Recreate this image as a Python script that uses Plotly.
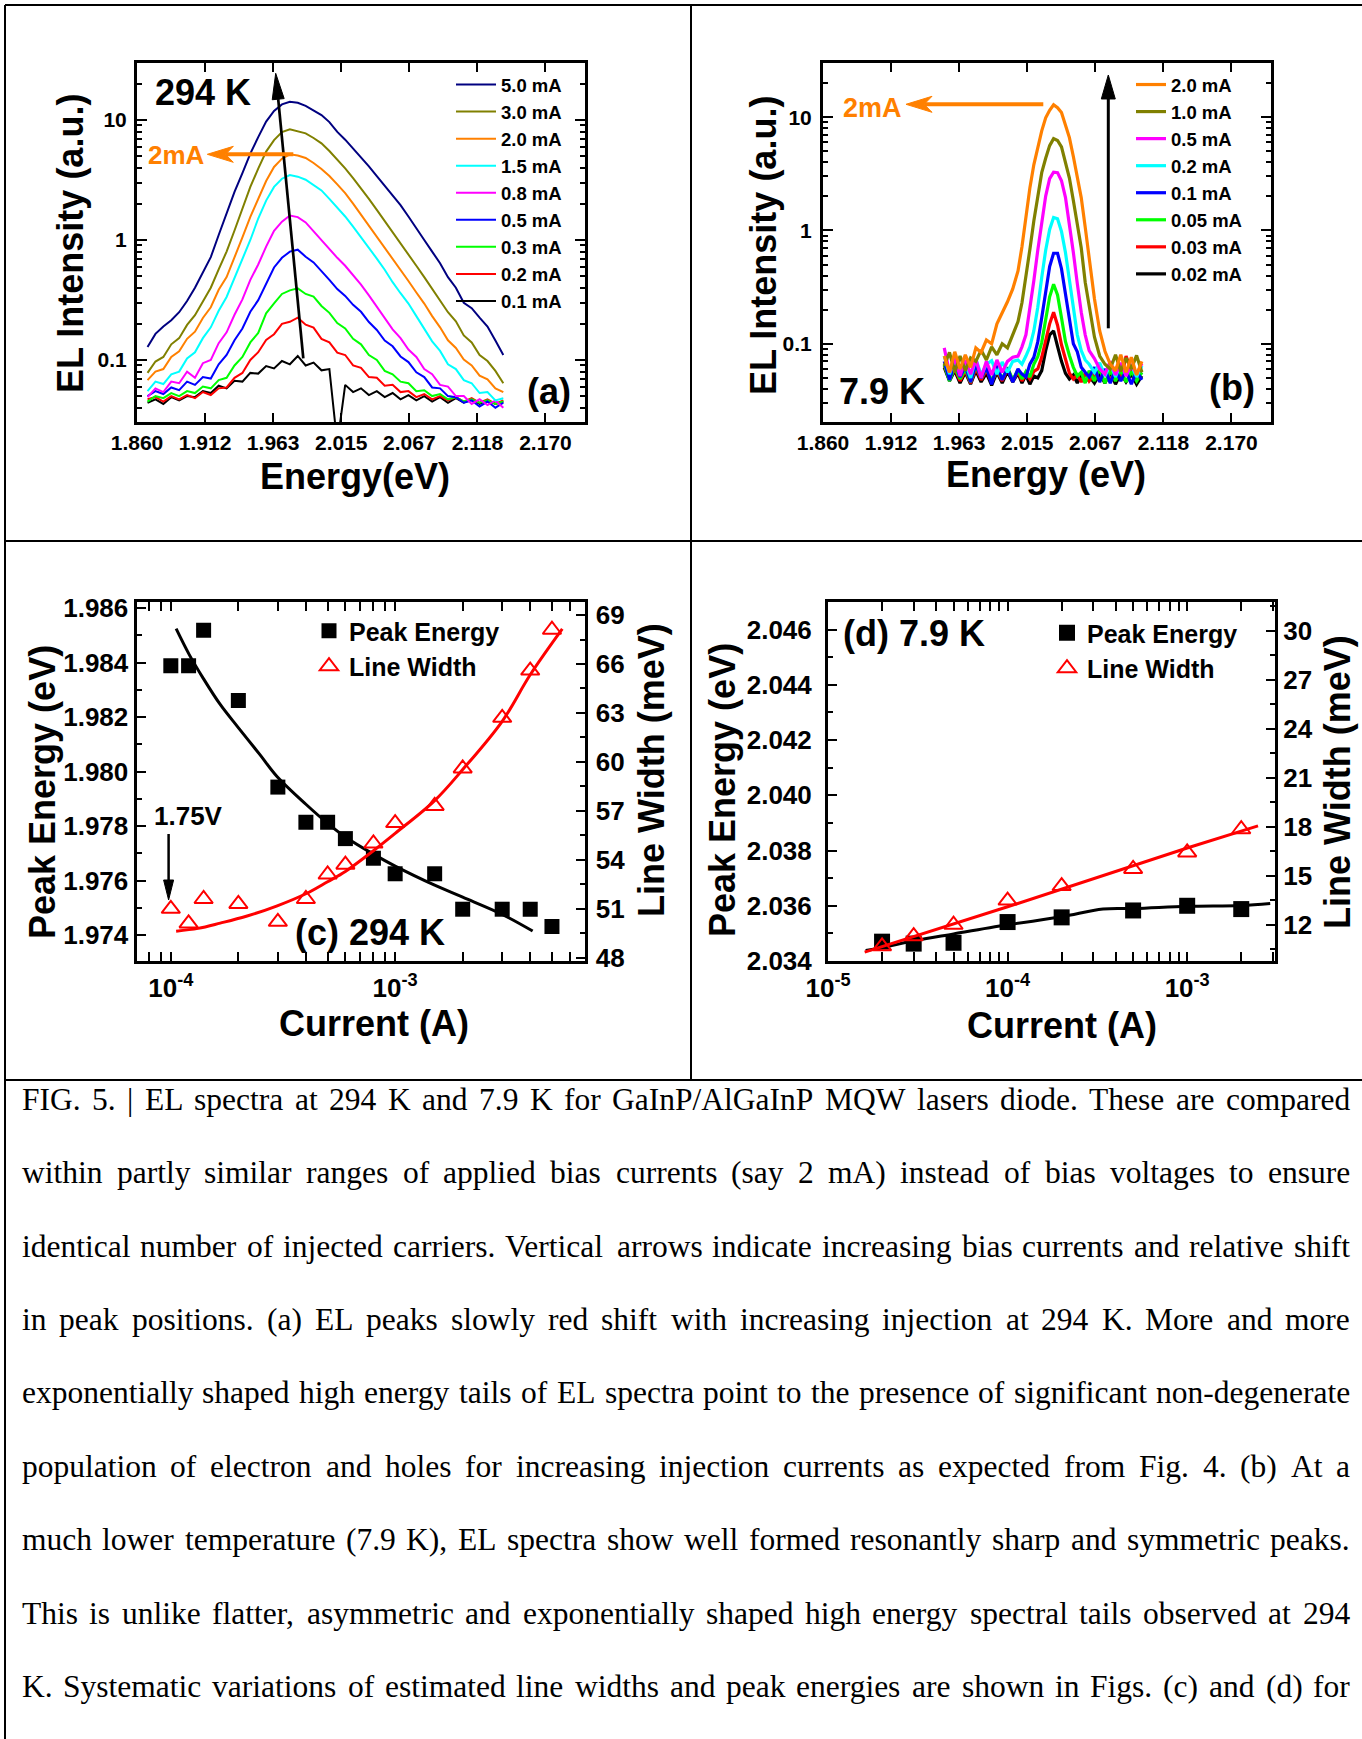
import math
import plotly.graph_objects as go

W, H = 1362, 1739
SANS = "Liberation Sans"
SERIF = "Liberation Serif"


def px(x):
    return x / W


def py(y):
    return 1 - y / H


# ---------------- panel (a) : 294 K spectra ----------------
E_A = [1.868, 1.874, 1.880, 1.886, 1.892, 1.898, 1.904, 1.910, 1.916, 1.922,
       1.928, 1.934, 1.940, 1.946, 1.952, 1.958, 1.964, 1.970, 1.976, 1.982,
       1.988, 1.994, 2.000, 2.006, 2.012, 2.018, 2.024, 2.030, 2.036, 2.042,
       2.048, 2.054, 2.060, 2.066, 2.072, 2.078, 2.084, 2.090, 2.096, 2.102,
       2.108, 2.114, 2.120, 2.126, 2.132, 2.138]
A_LABELS = ["5.0 mA", "3.0 mA", "2.0 mA", "1.5 mA", "0.8 mA", "0.5 mA", "0.3 mA", "0.2 mA", "0.1 mA"]
A_COLORS = ["#000080", "#808000", "#FF8000", "#00FFFF", "#FF00FF", "#0000FF", "#00FF00", "#FF0000", "#000000"]
I_A_50 = [0.128, 0.165, 0.19, 0.214, 0.25, 0.31, 0.40, 0.54, 0.72, 1.10,
          1.66, 2.52, 3.60, 5.25, 7.2, 9.7, 11.9, 13.5, 14.2, 13.9,
          13.1, 12.1, 11.0, 9.6, 7.95, 6.85, 5.8, 4.9, 4.1, 3.4,
          2.82, 2.37, 1.95, 1.57, 1.24, 1.0, 0.80, 0.64, 0.49, 0.40,
          0.30, 0.27, 0.225, 0.19, 0.145, 0.11]
I_A_30 = [0.078, 0.097, 0.106, 0.135, 0.152, 0.196, 0.236, 0.31, 0.40, 0.57,
          0.80, 1.2, 1.85, 2.77, 3.93, 5.45, 6.8, 7.94, 8.36, 8.1,
          7.74, 7.08, 6.39, 5.52, 4.7, 3.95, 3.27, 2.7, 2.2, 1.78,
          1.44, 1.17, 0.94, 0.77, 0.61, 0.49, 0.39, 0.315, 0.25, 0.21,
          0.16, 0.14, 0.11, 0.098, 0.081, 0.064]
I_A_20 = [0.068, 0.08, 0.084, 0.106, 0.118, 0.15, 0.172, 0.224, 0.275, 0.385,
          0.49, 0.71, 1.05, 1.56, 2.21, 3.1, 4.06, 4.76, 5.18, 5.05,
          4.82, 4.38, 3.91, 3.41, 2.91, 2.46, 2.01, 1.63, 1.32, 1.07,
          0.86, 0.70, 0.565, 0.455, 0.365, 0.295, 0.232, 0.187, 0.146, 0.126,
          0.101, 0.09, 0.074, 0.069, 0.058, 0.054]
I_A_15 = [0.055, 0.066, 0.063, 0.076, 0.08, 0.103, 0.116, 0.152, 0.187, 0.257,
          0.335, 0.48, 0.68, 1.0, 1.51, 2.13, 2.77, 3.24, 3.48, 3.37,
          3.18, 2.89, 2.59, 2.2, 1.86, 1.57, 1.29, 1.06, 0.87, 0.70,
          0.565, 0.445, 0.36, 0.295, 0.232, 0.183, 0.143, 0.119, 0.092, 0.084,
          0.068, 0.064, 0.053, 0.054, 0.046, 0.048]
I_A_08 = [0.049, 0.058, 0.054, 0.066, 0.064, 0.08, 0.071, 0.094, 0.1, 0.138,
          0.17, 0.238, 0.32, 0.465, 0.625, 0.88, 1.19, 1.42, 1.6, 1.55,
          1.4, 1.18, 1.0, 0.84, 0.71, 0.61, 0.51, 0.425, 0.345, 0.276,
          0.226, 0.18, 0.152, 0.122, 0.106, 0.084, 0.076, 0.062, 0.06, 0.05,
          0.05, 0.043, 0.047, 0.042, 0.046, 0.04]
I_A_05 = [0.05, 0.055, 0.052, 0.059, 0.056, 0.066, 0.062, 0.072, 0.07, 0.092,
          0.11, 0.146, 0.183, 0.252, 0.315, 0.43, 0.59, 0.71, 0.8, 0.83,
          0.725, 0.65, 0.555, 0.465, 0.39, 0.342, 0.288, 0.252, 0.207, 0.178,
          0.145, 0.13, 0.107, 0.096, 0.079, 0.072, 0.059, 0.058, 0.05, 0.049,
          0.044, 0.046, 0.041, 0.045, 0.04, 0.044]
I_A_03 = [0.045, 0.05, 0.048, 0.053, 0.05, 0.055, 0.053, 0.06, 0.058, 0.068,
          0.071, 0.09, 0.106, 0.14, 0.168, 0.245, 0.296, 0.355, 0.38, 0.395,
          0.355, 0.338, 0.282, 0.247, 0.203, 0.183, 0.15, 0.135, 0.11, 0.1,
          0.081, 0.076, 0.066, 0.064, 0.055, 0.056, 0.05, 0.052, 0.047, 0.049,
          0.045, 0.047, 0.044, 0.046, 0.043, 0.045]
I_A_02 = [0.047, 0.049, 0.045, 0.05, 0.047, 0.051, 0.048, 0.054, 0.051, 0.058,
          0.059, 0.071, 0.078, 0.1, 0.116, 0.147, 0.164, 0.2, 0.208, 0.225,
          0.197, 0.186, 0.15, 0.14, 0.115, 0.11, 0.09, 0.086, 0.072, 0.071,
          0.061, 0.062, 0.054, 0.055, 0.049, 0.052, 0.047, 0.05, 0.046, 0.049,
          0.045, 0.048, 0.044, 0.047, 0.043, 0.046]
I_A_01 = [0.044, 0.047, 0.043, 0.049, 0.046, 0.05, 0.049, 0.055, 0.053, 0.061,
          0.058, 0.067, 0.066, 0.078, 0.077, 0.089, 0.085, 0.098, 0.092, 0.108,
          0.09, 0.095, 0.082, 0.084, 0.02, 0.062, 0.054, 0.058, 0.051, 0.055,
          0.049, 0.053, 0.047, 0.051, 0.046, 0.05, 0.045, 0.049, 0.044, 0.048,
          0.044, 0.047, 0.043, 0.046, 0.043, 0.045]
A_SERIES = [I_A_50, I_A_30, I_A_20, I_A_15, I_A_08, I_A_05, I_A_03, I_A_02, I_A_01]

# ---------------- panel (b) : 7.9 K spectra ----------------
E_B = [1.952, 1.956, 1.960, 1.964, 1.968, 1.972, 1.976, 1.980, 1.984, 1.988,
       1.992, 1.996, 2.000, 2.004, 2.008, 2.011, 2.014, 2.017, 2.020, 2.023,
       2.026, 2.029, 2.032, 2.035, 2.038, 2.041, 2.044, 2.047, 2.050, 2.053,
       2.056, 2.059, 2.062, 2.066, 2.070, 2.074, 2.078, 2.082, 2.086, 2.090,
       2.094, 2.098, 2.102]
B_LABELS = ["2.0 mA", "1.0 mA", "0.5 mA", "0.2 mA", "0.1 mA", "0.05 mA", "0.03 mA", "0.02 mA"]
B_COLORS = ["#FF8000", "#808000", "#FF00FF", "#00FFFF", "#0000FF", "#00FF00", "#FF0000", "#000000"]
I_B_20 = [0.078, 0.056, 0.085, 0.06, 0.08, 0.062, 0.092, 0.084, 0.108, 0.1, 0.15, 0.185, 0.235, 0.305, 0.44,
          0.72, 1.39, 2.37, 3.8, 5.47, 7.57, 9.86, 11.5, 12.85, 12.1, 10.99, 8.6, 6.6, 4.5, 3.03, 1.94, 1.07, 0.56,
          0.25, 0.13, 0.086, 0.066, 0.058, 0.08, 0.056, 0.076, 0.053, 0.07]
I_B_10 = [0.064, 0.084, 0.056, 0.078, 0.058, 0.075, 0.07, 0.088, 0.072, 0.094, 0.08, 0.1, 0.092, 0.118, 0.157,
          0.23, 0.38, 0.68, 1.21, 2.05, 3.24, 4.34, 5.61, 6.47, 6.23, 5.46, 4.0, 2.9, 1.84, 1.12, 0.70, 0.35, 0.21,
          0.115, 0.078, 0.066, 0.06, 0.08, 0.057, 0.075, 0.06, 0.079, 0.056]
I_B_05 = [0.092, 0.056, 0.074, 0.052, 0.072, 0.054, 0.073, 0.05, 0.07, 0.053, 0.072, 0.056, 0.07, 0.076, 0.078,
          0.094, 0.12, 0.2, 0.36, 0.67, 1.22, 2.01, 2.87, 3.27, 3.24, 2.75, 1.96, 1.15, 0.64, 0.34, 0.19, 0.12, 0.087,
          0.074, 0.06, 0.054, 0.07, 0.053, 0.068, 0.052, 0.066, 0.054, 0.067]
I_B_02 = [0.078, 0.054, 0.072, 0.056, 0.068, 0.05, 0.074, 0.053, 0.066, 0.071, 0.054, 0.069, 0.056, 0.07, 0.072,
          0.066, 0.078, 0.094, 0.13, 0.21, 0.385, 0.67, 1.02, 1.3, 1.27, 0.98, 0.64, 0.36, 0.2, 0.12, 0.087, 0.072, 0.066,
          0.056, 0.068, 0.052, 0.066, 0.051, 0.067, 0.053, 0.065, 0.051, 0.064]
I_B_01 = [0.07, 0.048, 0.068, 0.051, 0.064, 0.046, 0.066, 0.05, 0.062, 0.044, 0.064, 0.048, 0.061, 0.046, 0.06,
          0.054, 0.051, 0.066, 0.076, 0.104, 0.17, 0.29, 0.48, 0.63, 0.63, 0.46, 0.276, 0.16, 0.1, 0.085, 0.062, 0.056, 0.051,
          0.062, 0.046, 0.06, 0.045, 0.059, 0.047, 0.058, 0.044, 0.057, 0.048]
I_B_005 = [0.066, 0.047, 0.062, 0.049, 0.06, 0.046, 0.064, 0.05, 0.061, 0.047, 0.059, 0.049, 0.062, 0.048, 0.059,
           0.049, 0.057, 0.051, 0.066, 0.077, 0.103, 0.165, 0.26, 0.335, 0.27, 0.17, 0.105, 0.079, 0.062, 0.052, 0.056, 0.045, 0.058,
           0.047, 0.06, 0.045, 0.058, 0.047, 0.059, 0.046, 0.057, 0.047, 0.056]
I_B_003 = [0.064, 0.049, 0.06, 0.047, 0.058, 0.045, 0.061, 0.048, 0.059, 0.046, 0.058, 0.047, 0.06, 0.047, 0.057,
           0.047, 0.055, 0.049, 0.057, 0.06, 0.076, 0.108, 0.15, 0.19, 0.146, 0.098, 0.072, 0.055, 0.049, 0.053, 0.046, 0.055, 0.047,
           0.054, 0.048, 0.058, 0.046, 0.062, 0.048, 0.078, 0.058, 0.049, 0.059]
I_B_002 = [0.062, 0.047, 0.058, 0.045, 0.056, 0.044, 0.058, 0.046, 0.055, 0.043, 0.056, 0.045, 0.057, 0.046, 0.055,
           0.045, 0.053, 0.044, 0.052, 0.05, 0.058, 0.087, 0.12, 0.13, 0.095, 0.07, 0.055, 0.049, 0.053, 0.045, 0.054, 0.046, 0.052,
           0.045, 0.054, 0.045, 0.056, 0.044, 0.055, 0.046, 0.054, 0.044, 0.052]
B_SERIES = [I_B_20, I_B_10, I_B_05, I_B_02, I_B_01, I_B_005, I_B_003, I_B_002]

# ---------------- panel (c) : 294 K peak energy / line width ----------------
C_CURRENT = [1e-4, 1.2e-4, 1.4e-4, 2e-4, 3e-4, 4e-4, 5e-4, 6e-4, 8e-4, 1e-3, 1.5e-3, 2e-3, 3e-3, 4e-3, 5e-3]
C_PEAK = [1.98388, 1.98388, 1.98518, 1.98261, 1.97943, 1.97814, 1.97814, 1.97754, 1.97682, 1.97625,
          1.97625, 1.97495, 1.97495, 1.97495, 1.97432]
C_WIDTH = [51.0, 50.1, 51.6, 51.3, 50.2, 51.6, 53.1, 53.7, 55.0, 56.25, 57.3, 59.6, 62.7, 65.6, 68.1]
C_FIT_PEAK_I = [1.056e-4, 1.208e-4, 1.397e-4, 1.66e-4, 1.986e-4, 2.49e-4, 2.98e-4, 4.0e-4, 5.0e-4, 6.0e-4,
                8.0e-4, 1.0e-3, 1.5e-3, 2.0e-3, 3.0e-3, 4.1e-3]
C_FIT_PEAK = [1.98524, 1.98429, 1.98341, 1.98246, 1.98164, 1.98063, 1.97981, 1.9788, 1.9781, 1.9776,
              1.97697, 1.97653, 1.97583, 1.97539, 1.97476, 1.97415]
C_FIT_W_I = [1.056e-4, 1.323e-4, 1.66e-4, 2.17e-4, 2.98e-4, 4.0e-4, 5.0e-4, 6.0e-4, 8.0e-4, 1.0e-3,
             1.5e-3, 2.0e-3, 3.0e-3, 4.0e-3, 5.56e-3]
C_FIT_W = [49.63, 49.8, 50.12, 50.54, 51.18, 51.92, 52.66, 53.29, 54.56, 55.62, 57.63, 59.53, 62.49, 65.34, 68.15]

# ---------------- panel (d) : 7.9 K peak energy / line width ----------------
D_CURRENT = [2e-5, 3e-5, 5e-5, 1e-4, 2e-4, 5e-4, 1e-3, 2e-3]
D_PEAK = [2.0347, 2.03463, 2.03466, 2.03541, 2.03558, 2.03583, 2.036, 2.03588]
D_WIDTH = [10.68, 11.3, 12.0, 13.48, 14.37, 15.42, 16.43, 17.85]
D_FIT_PEAK_I = [1.62e-5, 2e-5, 3e-5, 5e-5, 1e-4, 2e-4, 3.4e-4, 5.1e-4, 1e-3, 2e-3, 2.9e-3]
D_FIT_PEAK = [2.03438, 2.03448, 2.03473, 2.03498, 2.03531, 2.0356, 2.03588, 2.0359, 2.03598, 2.03601, 2.03608]
D_FIT_W_I = [1.6e-5, 1e-4, 1e-3, 2.48e-3]
D_FIT_W = [10.32, 13.1, 16.7, 18.06]

# ---------------- tick labels ----------------
E_TICKVALS = [1.860, 1.91167, 1.96333, 2.015, 2.06667, 2.11833, 2.170]
E_TICKTEXT = ["1.860", "1.912", "1.963", "2.015", "2.067", "2.118", "2.170"]
INT_TICKVALS = [0.1, 1, 10]
INT_TICKTEXT = ["0.1", "1", "10"]

# ---------------- caption ----------------
CAPTION_LINES = [
    "FIG. 5. | EL spectra at 294 K and 7.9 K for GaInP/AlGaInP MQW lasers diode. These are compared",
    "within partly similar ranges of applied bias currents (say 2 mA) instead of bias voltages to ensure",
    "identical number of injected carriers. Vertical arrows indicate increasing bias currents and relative shift",
    "in peak positions. (a) EL peaks slowly red shift with increasing injection at 294 K. More and more",
    "exponentially shaped high energy tails of EL spectra point to the presence of significant non-degenerate",
    "population of electron and holes for increasing injection currents as expected from Fig. 4.  (b) At a",
    "much lower temperature (7.9 K), EL spectra show well formed resonantly sharp and symmetric peaks.",
    "This is unlike flatter, asymmetric and exponentially shaped high energy spectral tails observed at 294",
    "K. Systematic variations of estimated line widths and peak energies are shown in Figs. (c) and (d) for",
]

# Times advance widths (1/1000 em) used to justify the caption lines
TIMES_W = {' ': 250, '.': 250, ',': 250, '(': 333, ')': 333, '|': 200, '/': 278, '-': 333, ':': 278, ';': 278,
           '0': 500, '1': 500, '2': 500, '3': 500, '4': 500, '5': 500, '6': 500, '7': 500, '8': 500, '9': 500,
           'A': 722, 'B': 667, 'C': 667, 'D': 722, 'E': 611, 'F': 556, 'G': 722, 'H': 722, 'I': 333, 'J': 389,
           'K': 722, 'L': 611, 'M': 889, 'N': 722, 'O': 722, 'P': 556, 'Q': 722, 'R': 667, 'S': 556, 'T': 611,
           'U': 722, 'V': 722, 'W': 944, 'X': 722, 'Y': 722, 'Z': 611,
           'a': 444, 'b': 500, 'c': 444, 'd': 500, 'e': 444, 'f': 333, 'g': 500, 'h': 500, 'i': 278, 'j': 278,
           'k': 500, 'l': 278, 'm': 778, 'n': 500, 'o': 500, 'p': 500, 'q': 500, 'r': 333, 's': 389, 't': 278,
           'u': 500, 'v': 500, 'w': 722, 'x': 500, 'y': 500, 'z': 444}

# =====================================================================
fig = go.Figure()

for lab, col, ys in reversed(list(zip(A_LABELS, A_COLORS, A_SERIES))):
    fig.add_trace(go.Scatter(x=E_A, y=ys, mode="lines", name=lab, line=dict(color=col, width=2),
                             xaxis="x", yaxis="y", legend="legend"))

for lab, col, ys in reversed(list(zip(B_LABELS, B_COLORS, B_SERIES))):
    fig.add_trace(go.Scatter(x=E_B, y=ys, mode="lines", name=lab, line=dict(color=col, width=3.2),
                             xaxis="x2", yaxis="y2", legend="legend2"))

fig.add_trace(go.Scatter(x=C_FIT_PEAK_I, y=C_FIT_PEAK, mode="lines", line=dict(color="black", width=3, shape="spline"),
                         xaxis="x3", yaxis="y3", showlegend=False))
fig.add_trace(go.Scatter(x=C_FIT_W_I, y=C_FIT_W, mode="lines", line=dict(color="red", width=3, shape="spline"),
                         xaxis="x3", yaxis="y4", showlegend=False))
fig.add_trace(go.Scatter(x=C_CURRENT, y=C_PEAK, mode="markers", name="Peak Energy",
                         marker=dict(symbol="square", size=15, color="black"),
                         xaxis="x3", yaxis="y3", legend="legend3"))
fig.add_trace(go.Scatter(x=C_CURRENT, y=C_WIDTH, mode="markers", name="Line Width",
                         marker=dict(symbol="triangle-up-open", size=16, color="red", line=dict(width=2, color="red")),
                         xaxis="x3", yaxis="y4", legend="legend3"))

fig.add_trace(go.Scatter(x=D_FIT_PEAK_I, y=D_FIT_PEAK, mode="lines", line=dict(color="black", width=3, shape="spline"),
                         xaxis="x4", yaxis="y5", showlegend=False))
fig.add_trace(go.Scatter(x=D_FIT_W_I, y=D_FIT_W, mode="lines", line=dict(color="red", width=3),
                         xaxis="x4", yaxis="y6", showlegend=False))
fig.add_trace(go.Scatter(x=D_CURRENT, y=D_PEAK, mode="markers", name="Peak Energy",
                         marker=dict(symbol="square", size=16, color="black"),
                         xaxis="x4", yaxis="y5", legend="legend4"))
fig.add_trace(go.Scatter(x=D_CURRENT, y=D_WIDTH, mode="markers", name="Line Width",
                         marker=dict(symbol="triangle-up-open", size=16, color="red", line=dict(width=2, color="red")),
                         xaxis="x4", yaxis="y6", legend="legend4"))


def tfont(size):
    return dict(family=SANS, size=size, color="black", weight="bold")


def axis(size, **kw):
    d = dict(showline=True, linecolor="black", linewidth=3, mirror="allticks", ticks="inside",
             tickcolor="black", tickwidth=2, ticklen=9, showgrid=False, zeroline=False,
             automargin=False, tickfont=tfont(size))
    d.update(kw)
    return d


def minor(vals=None, dtick=None, tick0=None):
    m = dict(ticks="inside", ticklen=5, tickwidth=2, tickcolor="black", showgrid=False)
    if vals is not None:
        m["tickvals"] = vals
    if dtick is not None:
        m["dtick"] = dtick
        m["tick0"] = tick0
    return m


LOG_MINOR_A = [0.04, 0.05, 0.06, 0.07, 0.08, 0.09, 0.2, 0.3, 0.4, 0.5, 0.6, 0.7, 0.8, 0.9,
               2, 3, 4, 5, 6, 7, 8, 9, 20]
LOG_MINOR_B = [0.03] + LOG_MINOR_A
CUR_MINOR_C = [8e-5, 9e-5, 2e-4, 3e-4, 4e-4, 5e-4, 6e-4, 7e-4, 8e-4, 9e-4, 2e-3, 3e-3, 4e-3, 5e-3, 6e-3]
CUR_MINOR_D = [2e-5, 3e-5, 4e-5, 5e-5, 6e-5, 7e-5, 8e-5, 9e-5, 2e-4, 3e-4, 4e-4, 5e-4, 6e-4, 7e-4, 8e-4,
               9e-4, 2e-3, 3e-3]

DOM_A_X = [px(137), px(585)]
DOM_B_X = [px(823), px(1271)]
DOM_TOP_Y = [py(422), py(63)]
DOM_C_X = [px(136.5), px(584.5)]
DOM_D_X = [px(828), px(1275)]
DOM_BOT_Y = [py(961), py(602)]

fig.update_layout(
    xaxis=axis(21, domain=DOM_A_X, range=[1.860, 2.200], tickvals=E_TICKVALS, ticktext=E_TICKTEXT,
               anchor="y", ticklabelstandoff=0),
    yaxis=axis(21, domain=DOM_TOP_Y, type="log", range=[-1.517, 1.475], tickvals=INT_TICKVALS,
               ticktext=INT_TICKTEXT, ticklen=10, anchor="x", minor=minor(LOG_MINOR_A), ticklabelstandoff=3),
    xaxis2=axis(21, domain=DOM_B_X, range=[1.860, 2.200], tickvals=E_TICKVALS, ticktext=E_TICKTEXT,
                anchor="y2", ticklabelstandoff=0),
    yaxis2=axis(21, domain=DOM_TOP_Y, type="log", range=[-1.69, 1.478], tickvals=INT_TICKVALS,
                ticktext=INT_TICKTEXT, ticklen=10, anchor="x2", minor=minor(LOG_MINOR_B), ticklabelstandoff=4),
    xaxis3=axis(26, domain=DOM_C_X, type="log", range=[-4.153, -2.156], tickvals=[1e-4, 1e-3],
                ticktext=["10<sup>-4</sup>", "10<sup>-3</sup>"], anchor="y3", minor=minor(CUR_MINOR_C),
                ticklabelstandoff=2),
    yaxis3=axis(26, domain=DOM_BOT_Y, range=[1.97305, 1.98622],
                tickvals=[1.974, 1.976, 1.978, 1.980, 1.982, 1.984, 1.986],
                ticktext=["1.974", "1.976", "1.978", "1.980", "1.982", "1.984", "1.986"],
                anchor="x3", mirror=False, minor=minor(dtick=0.001, tick0=1.973), ticklabelstandoff=0),
    yaxis4=axis(26, domain=DOM_BOT_Y, range=[47.8, 69.8], tickvals=[48, 51, 54, 57, 60, 63, 66, 69],
                anchor="x3", overlaying="y3", side="right", mirror=False, minor=minor(dtick=1.5, tick0=48),
                ticklabelstandoff=3),
    xaxis4=axis(26, domain=DOM_D_X, type="log", range=[-5, -2.511], tickvals=[1e-5, 1e-4, 1e-3],
                ticktext=["10<sup>-5</sup>", "10<sup>-4</sup>", "10<sup>-3</sup>"], anchor="y5",
                minor=minor(CUR_MINOR_D), ticklabelstandoff=2),
    yaxis5=axis(26, domain=DOM_BOT_Y, range=[2.034, 2.047],
                tickvals=[2.034, 2.036, 2.038, 2.040, 2.042, 2.044, 2.046],
                ticktext=["2.034", "2.036", "2.038", "2.040", "2.042", "2.044", "2.046"],
                anchor="x4", mirror=False, minor=minor(dtick=0.001, tick0=2.034), ticklabelstandoff=8),
    yaxis6=axis(26, domain=DOM_BOT_Y, range=[9.78, 31.77], tickvals=[12, 15, 18, 21, 24, 27, 30],
                anchor="x4", overlaying="y5", side="right", mirror=False, minor=minor(dtick=1.5, tick0=12),
                ticklabelstandoff=0),
)

LEG_COMMON = dict(bgcolor="rgba(0,0,0,0)", borderwidth=0, xanchor="left", yanchor="top")
fig.update_layout(
    legend=dict(LEG_COMMON, x=px(451), y=py(66), itemwidth=40, font=tfont(18.5), traceorder="reversed"),
    legend2=dict(LEG_COMMON, x=px(1131), y=py(66), itemwidth=30, font=tfont(18.5), traceorder="reversed"),
    legend3=dict(LEG_COMMON, x=px(309), y=py(608), itemwidth=30, font=tfont(25)),
    legend4=dict(LEG_COMMON, x=px(1047), y=py(610), itemwidth=30, font=tfont(25)),
)

annotations = []
shapes = []


def label(text, x, y, size, color="black", angle=0):
    annotations.append(dict(text=text, x=px(x), y=py(y), xref="paper", yref="paper", showarrow=False,
                            xanchor="center", yanchor="middle", textangle=angle,
                            font=dict(family=SANS, size=size, color=color, weight="bold")))


def arrow(hx, hy, tx, ty, color, width, head_len, half_w, notch=0.0):
    """Arrow drawn as a line plus a filled head (pixel coordinates of the page)."""
    dx, dy = tx - hx, ty - hy
    d = math.hypot(dx, dy)
    ux, uy = dx / d, dy / d
    nx, ny = -uy, ux
    bx, by = hx + ux * head_len, hy + uy * head_len
    cx, cy = hx + ux * head_len * (1 - notch), hy + uy * head_len * (1 - notch)
    shapes.append(dict(type="line", xref="paper", yref="paper", x0=px(tx), y0=py(ty), x1=px(cx), y1=py(cy),
                       line=dict(color=color, width=width)))
    path = "M {:.6f},{:.6f} L {:.6f},{:.6f} L {:.6f},{:.6f} L {:.6f},{:.6f} Z".format(
        px(hx), py(hy), px(bx + nx * half_w), py(by + ny * half_w), px(cx), py(cy),
        px(bx - nx * half_w), py(by - ny * half_w))
    shapes.append(dict(type="path", xref="paper", yref="paper", path=path, fillcolor=color,
                       line=dict(color=color, width=1)))


# axis titles, placed beside their axes
label("Energy(eV)", 354.5, 477, 36)
label("Energy (eV)", 1046, 474, 36)
label("EL Intensity (a.u.)", 70, 244, 36, angle=-90)
label("EL Intensity (a.u.)", 763, 246, 36, angle=-90)
label("Current (A)", 374, 1023, 36)
label("Current (A)", 1062, 1025, 36)
label("Peak Energy (eV)", 42, 792, 36, angle=-90)
label("Line Width (meV)", 651, 770, 36, angle=-90)
label("Peak Energy (eV)", 722, 790, 36, angle=-90)
label("Line Width (meV)", 1337, 782, 36, angle=-90)

# in-plot labels
label("294 K", 202.5, 93, 36)
label("2mA", 176, 155, 26, "#FF8000")
label("(a)", 548.5, 392, 36)
label("2mA", 872.5, 108, 27, "#FF8000")
label("7.9 K", 881.5, 392, 36)
label("(b)", 1231.5, 388, 36)
label("1.75V", 188, 815.5, 26)
label("(c) 294 K", 369.7, 932.6, 36)
label("(d) 7.9 K", 914, 633, 36)

arrow(275.7, 73.3, 303.3, 358.3, "black", 2.7, 26, 6)
arrow(207.3, 154.3, 293.3, 154.3, "#FF8000", 4, 26, 8, notch=0.3)
arrow(906, 104.3, 1043.3, 104.3, "#FF8000", 4, 26, 8, notch=0.3)
arrow(1108.3, 75, 1108.3, 328.3, "black", 3, 24, 7)
arrow(168.6, 900, 168.6, 834, "black", 2.5, 20, 5)

# caption, justified word by word
CAP_FS = 31.5
CAP_LEFT, CAP_RIGHT = 20.7, 1349.0
CAP_BASE0, CAP_STEP = 1110.0, 73.4


def text_width(s, fs):
    return sum(TIMES_W.get(ch, 500) for ch in s) * fs / 1000.0


for i, line in enumerate(CAPTION_LINES):
    words = line.split()
    widths = [text_width(w, CAP_FS) for w in words]
    gap = (CAP_RIGHT - CAP_LEFT - sum(widths)) / (len(words) - 1)
    xcur = CAP_LEFT
    yc = CAP_BASE0 + CAP_STEP * i - 0.3375 * CAP_FS
    for w, wd in zip(words, widths):
        annotations.append(dict(text=w, x=px(xcur), y=py(yc), xref="paper", yref="paper", showarrow=False,
                                xanchor="left", yanchor="middle", borderpad=0,
                                font=dict(family=SERIF, size=CAP_FS, color="black")))
        xcur += wd + gap

LINE = dict(color="black", width=2)
shapes += [
    dict(type="line", xref="paper", yref="paper", x0=px(5), x1=px(1362), y0=py(5), y1=py(5), line=LINE),
    dict(type="line", xref="paper", yref="paper", x0=px(5), x1=px(5), y0=py(5), y1=py(1739), line=LINE),
    dict(type="line", xref="paper", yref="paper", x0=px(691), x1=px(691), y0=py(5), y1=py(1080), line=LINE),
    dict(type="line", xref="paper", yref="paper", x0=px(5), x1=px(1362), y0=py(541), y1=py(541), line=LINE),
    dict(type="line", xref="paper", yref="paper", x0=px(5), x1=px(1362), y0=py(1080), y1=py(1080), line=LINE),
]

fig.update_layout(
    width=W, height=H, margin=dict(l=0, r=0, t=0, b=0, pad=0, autoexpand=False),
    paper_bgcolor="white", plot_bgcolor="white",
    font=dict(family=SANS, color="black"),
    annotations=annotations, shapes=shapes,
)

fig.write_html("out.html", config={"displayModeBar": False},
               post_script="document.body.style.margin='0';document.body.style.overflow='hidden';")
